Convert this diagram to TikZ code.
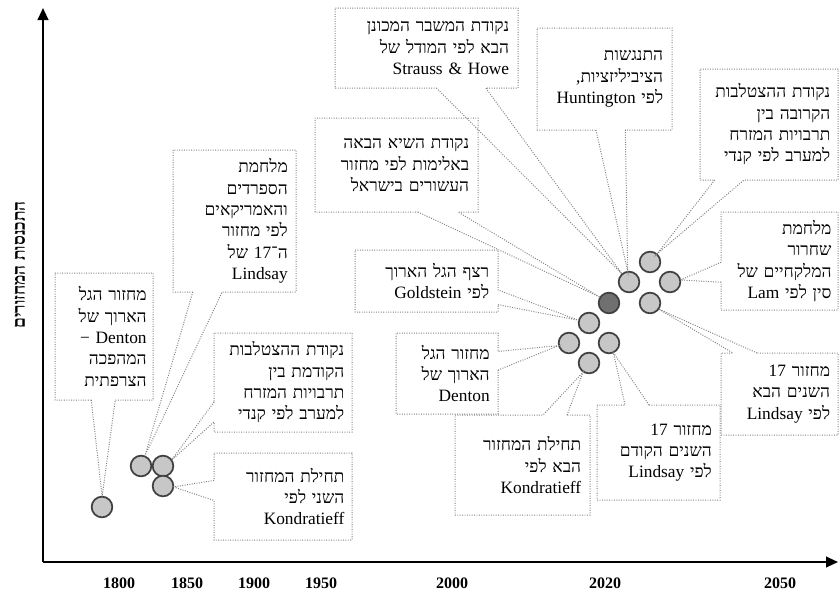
\documentclass[tikz,border=0pt]{standalone}
\usepackage{fontspec}
\setmainfont{Liberation Serif}
\newfontfamily\heb[Script=Hebrew]{Liberation Serif}
\TeXXeTstate=1
\usetikzlibrary{arrows.meta}
\usetikzlibrary{shapes.callouts}
\usetikzlibrary{positioning}
\newcommand{\rl}[1]{\beginR #1\endR}
\newcommand{\lt}[1]{\beginL #1\endL{}}
\tikzset{%
	axis/.style={line width=1.5pt,-{Triangle[length=9pt,width=8pt]}},
	cyc/.style={circle,draw=black!75,line width=1.3pt,fill=black!22,minimum size=15.5pt,inner sep=0pt},
	cycd/.style={cyc,fill=black!56},
	note/.style={rectangle callout,draw=black!50,dash pattern=on 0.7pt off 1.1pt,line width=0.75pt,align=right,inner sep=0pt,callout pointer shorten=8pt,font=\heb\fontsize{13}{16}\selectfont},
	year/.style={font=\bfseries\fontsize{12}{14}\selectfont},
}
\begin{document}
\begin{tikzpicture}[x=0.75pt,y=-0.75pt]
	\useasboundingbox (0,0) rectangle (839,596);
	% axes
	\coordinate (o) at (43,562);
	\coordinate (ytop) at (43,8);
	\coordinate (xend) at (838,562);
	\draw[axis] (o) -- (ytop);
	\draw[axis] (o) -- (xend);
	\node (ylab) at (20,265) [rotate=90,font=\heb\bfseries\fontsize{13}{15}\selectfont] {\rl{התכנסות המחזורים}};
	
	\node (y1800) at (119,583) [year] {1800};
	\node (y1850) at (187,583) [year] {1850};
	\node (y1900) at (254,583) [year] {1900};
	\node (y1950) at (321,583) [year] {1950};
	\node (y2000) at (452,583) [year] {2000};
	\node (y2020) at (605,583) [year] {2020};
	\node (y2050) at (780,583) [year] {2050};
	
	% cycles
	\node (L0) at (102,507) [cyc] {};
	\node (L1) at (141,466) [cyc] {};
	\node (L2) at (163,466) [cyc] {};
	\node (L3) at (163,486) [cyc] {};
	\node (D) at (609,303) [cycd] {};
	\node (C1) at (589,323) [cyc] {};
	\node (C2) at (569,343) [cyc] {};
	\node (C3) at (609,343) [cyc] {};
	\node (C4) at (589,363) [cyc] {};
	\node (U1) at (650,262) [cyc] {};
	\node (U2) at (629,282) [cyc] {};
	\node (U3) at (670,282) [cyc] {};
	\node (U4) at (650,303) [cyc] {};
	
	% notes
	\node (strauss) at (426.5,48) [note,minimum width=137.25pt,minimum height=60pt,text width=124pt,callout absolute pointer={(U2)},callout pointer width=37pt] {\rl{נקודת המשבר המכונן}\\\rl{הבא לפי המודל של}\\\rl{\lt{Strauss \& Howe}}};
	\node (hunt) at (604.5,79) [note,minimum width=101.25pt,minimum height=76.5pt,text width=88pt,callout absolute pointer={(U2)},callout pointer width=22pt] {\rl{התנגשות}\\\rl{הציביליזציות,}\\\rl{לפי \lt{Huntington}}};
	\node (crossn) at (769,124.5) [note,minimum width=103.5pt,minimum height=83.25pt,text width=92pt,callout absolute pointer={(U1)},callout pointer width=22pt] {\rl{נקודת ההצטלבות}\\\rl{הקרובה בין}\\\rl{תרבויות המזרח}\\\rl{למערב לפי קנדי}};
	\node (peak) at (396.5,165) [note,minimum width=122.25pt,minimum height=70.5pt,text width=109pt,callout absolute pointer={(D)},callout pointer width=30pt] {\rl{נקודת השיא הבאה}\\\rl{באלימות לפי מחזור}\\\rl{העשורים בישראל}};
	\node (goldst) at (426.5,281) [note,minimum width=107.25pt,minimum height=46.5pt,text width=94pt,callout absolute pointer={(C1)},callout pointer width=11pt] {\rl{רצף הגל הארוך}\\\rl{לפי \lt{Goldstein}}};
	\node (lam) at (779.5,261) [note,minimum width=87.75pt,minimum height=73.5pt,text width=78pt,callout absolute pointer={(U3)},callout pointer width=15pt] {\rl{מלחמת}\\\rl{שחרור}\\\rl{המלקחיים של}\\\rl{סין לפי \lt{Lam}}};
	\node (lindnext) at (779.5,394) [note,minimum width=87.75pt,minimum height=61.5pt,text width=76pt,callout absolute pointer={(U4)},callout pointer width=18pt] {\rl{מחזור \lt{17}}\\\rl{השנים הבא}\\\rl{לפי \lt{Lindsay}}};
	\node (lindprev) at (658.5,452.5) [note,minimum width=92.25pt,minimum height=71.25pt,text width=80pt,callout absolute pointer={(C3)},callout pointer width=18pt] {\rl{מחזור \lt{17}}\\\rl{השנים הקודם}\\\rl{לפי \lt{Lindsay}}};
	\node (kondnext) at (522.5,465) [note,minimum width=101.25pt,minimum height=75pt,text width=88pt,callout absolute pointer={(C4)},callout pointer width=18pt] {\rl{תחילת המחזור}\\\rl{הבא לפי}\\\rl{\lt{Kondratieff}}};
	\node (denton) at (447,373.5) [note,minimum width=76.5pt,minimum height=60.75pt,text width=64pt,callout absolute pointer={(C2)},callout pointer width=14pt] {\rl{מחזור הגל}\\\rl{הארוך של}\\\rl{\lt{Denton}}};
	\node (spanish) at (234.5,221) [note,minimum width=92.25pt,minimum height=106.5pt,text width=80pt,callout absolute pointer={(L1)},callout pointer width=22pt] {\rl{מלחמת}\\\rl{הספרדים}\\\rl{והאמריקאים}\\\rl{לפי מחזור}\\\rl{ה־\lt{17} של}\\\rl{\lt{Lindsay}}};
	\node (french) at (104,336.5) [note,minimum width=73.5pt,minimum height=95.25pt,text width=64pt,callout absolute pointer={(L0)},callout pointer width=18pt] {\rl{מחזור הגל}\\\rl{הארוך של}\\\mbox{\rmfamily \textminus\ Denton}\\\rl{המהפכה}\\\rl{הצרפתית}};
	\node (crossp) at (283,382.5) [note,minimum width=103.5pt,minimum height=74.25pt,text width=92pt,callout absolute pointer={(L2)},callout pointer width=15pt] {\rl{נקודת ההצטלבות}\\\rl{הקודמת בין}\\\rl{תרבויות המזרח}\\\rl{למערב לפי קנדי}};
	\node (kond2) at (283,496.5) [note,minimum width=103.5pt,minimum height=65.25pt,text width=92pt,callout absolute pointer={(L3)},callout pointer width=15pt] {\rl{תחילת המחזור}\\\rl{השני לפי}\\\rl{\lt{Kondratieff}}};
\end{tikzpicture}
\end{document}
